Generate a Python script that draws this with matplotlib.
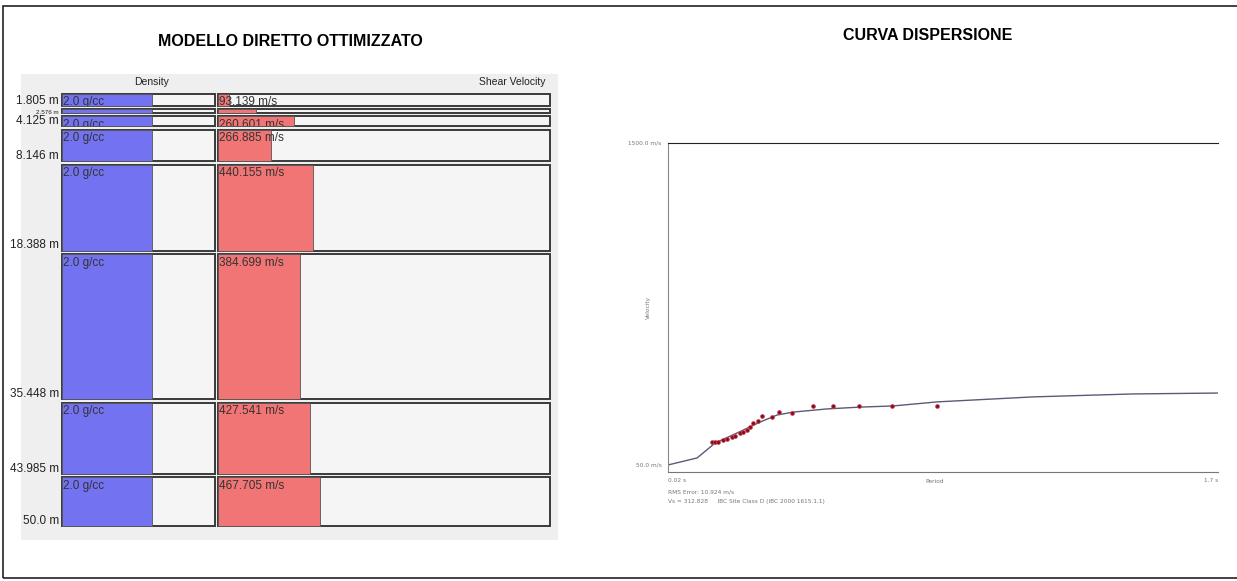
import numpy as np
import matplotlib.pyplot as plt
from matplotlib.patches import Rectangle
from matplotlib.transforms import Bbox

W, H = 1237, 581
NARROW = ['Liberation Sans Narrow', 'Liberation Sans', 'DejaVu Sans']

# layered model: bottom depth of each layer (m), density (g/cc), shear velocity (m/s)
depth_bottom = [1.805, 2.576, 4.125, 8.146, 18.388, 35.448, 43.985, 50.0]
density = [2.0, 2.0, 2.0, 2.0, 2.0, 2.0, 2.0, 2.0]
density_text = ['2.0 g/cc', '', '2.0 g/cc', '2.0 g/cc', '2.0 g/cc', '2.0 g/cc',
                '2.0 g/cc', '2.0 g/cc']
vs = [93.139, 205.0, 360.601, 266.885, 440.155, 384.699, 427.541, 467.705]
vs_text = ['93.139 m/s', '', '260.601 m/s', '266.885 m/s', '440.155 m/s',
           '384.699 m/s', '427.541 m/s', '467.705 m/s']
depth_text = ['1.805 m', '2.576 m', '4.125 m', '8.146 m', '18.388 m',
              '35.448 m', '43.985 m', '50.0 m']

# dispersion curve: period (s) / phase velocity (m/s)
curve_T = [0.02, 0.109, 0.164, 0.231, 0.301, 0.353, 0.402, 0.506, 0.606,
           0.707, 0.842, 1.135, 1.44, 1.70]
curve_v = [81, 112, 178, 222, 270, 301, 314, 328, 336, 341, 359, 381, 394, 398]
obs_T = [0.153, 0.164, 0.174, 0.189, 0.199, 0.215, 0.225, 0.240, 0.250, 0.260,
         0.271, 0.281, 0.294, 0.308, 0.339, 0.360, 0.400, 0.462, 0.523, 0.602,
         0.705, 0.841]
obs_v = [181, 181, 184, 191, 194, 203, 209, 220, 227, 235, 247, 264, 276, 298,
         293, 315, 312, 340, 340, 340, 340, 340]


def box(x0, y0, x1, y1):
    return [x0 / W, 1 - y1 / H, (x1 - x0) / W, (y1 - y0) / H]


fig = plt.figure(figsize=(W / 100, H / 100), dpi=100)

# page frame and panel background (kept behind the axes)
fig.patches.append(Rectangle((3 / W, 1 - 578 / H), 1.2, (578 - 6) / H, transform=fig.transFigure,
                             fill=False, ec='#222222', lw=1.2, zorder=-2))
fig.patches.append(Rectangle((21 / W, 1 - 540 / H), (558 - 21) / W, (540 - 74) / H,
                             transform=fig.transFigure, fc='#efefef', ec='none', zorder=-1))

fig.text(290 / W, 1 - 42 / H, 'MODELLO DIRETTO OTTIMIZZATO', ha='center', va='center',
         fontsize=11.5, fontweight='bold', family=['Liberation Sans', 'DejaVu Sans'])
fig.text(928 / W, 1 - 35 / H, 'CURVA DISPERSIONE', ha='center', va='center',
         fontsize=11.5, fontweight='bold', family=['Liberation Sans', 'DejaVu Sans'])
fig.text(152 / W, 1 - 82 / H, 'Density', ha='center', va='center', fontsize=7.5,
         family=NARROW, color='#222222')
fig.text(512 / W, 1 - 82 / H, 'Shear Velocity', ha='center', va='center', fontsize=7.5,
         family=NARROW, color='#222222')

tops = [0.0] + depth_bottom[:-1]
gap = 0.2


def layer_column(ax, values, labels, xmin, xmax, color):
    ax.set_xlim(xmin, xmax)
    ax.set_ylim(50.0, 0.0)
    ax.axis('off')
    for top, bot, val, lab in zip(tops, depth_bottom, values, labels):
        y0, y1 = top + gap, bot - gap
        ax.add_patch(Rectangle((xmin, y0), xmax - xmin, y1 - y0, fc='#f5f5f5', ec='#3a3a3a',
                               lw=1.4, clip_on=False))
        ax.add_patch(Rectangle((xmin, y0), val - xmin, y1 - y0, fc=color, ec='#555555', lw=0.6,
                               clip_on=False))
        if lab:
            t = ax.text(xmin + 0.004 * (xmax - xmin), y0 + 0.3, lab, ha='left', va='top',
                        fontsize=8.5, family=NARROW, color='#333333')
            # labels that do not fit a thin layer are cut at the layer's edge
            (px0, py0), (px1, py1) = ax.transData.transform([[xmin, y0], [xmax, y1]])
            t.set_clip_box(Bbox.from_extents(min(px0, px1), min(py0, py1),
                                             max(px0, px1), max(py0, py1)))
            t.set_clip_on(True)


ax_d = fig.add_axes(box(62, 92, 215, 528))
ax_v = fig.add_axes(box(218, 92, 550, 528))
layer_column(ax_d, density, density_text, 0.0, 3.4, '#7373f2')
layer_column(ax_v, vs, vs_text, 50.0, 1410.0, '#f27575')

for bot, lab in zip(depth_bottom, depth_text):
    small = lab == '2.576 m'
    ax_d.text(-0.02, bot + (0.1 if small else -0.1), lab, transform=ax_d.get_yaxis_transform(),
              ha='right', va='bottom', fontsize=4.5 if small else 8.5, family=NARROW,
              color='#222222', clip_on=False)

# dispersion curve panel
ax = fig.add_axes(box(668, 143, 1218, 472))
ax.set_xlim(0.02, 1.70)
ax.set_ylim(50.0, 1500.0)
ax.plot(curve_T, curve_v, color='#5a5a78', lw=1.0)
ax.plot(obs_T, obs_v, 'o', ms=2.8, mfc='#7a1020', mec='#e04050', mew=0.5)
ax.set_xticks([])
ax.set_yticks([])
ax.spines['right'].set_visible(False)
ax.spines['top'].set_color('#222222')
ax.spines['left'].set_color('#888888')
ax.spines['bottom'].set_color('#777777')

small_kw = dict(fontsize=4.2, color='#777777', family=['DejaVu Sans'])
ax.text(-0.012, 1.0, '1500.0 m/s', transform=ax.transAxes, ha='right', va='center', **small_kw)
ax.text(-0.012, 0.02, '50.0 m/s', transform=ax.transAxes, ha='right', va='center', **small_kw)
ax.text(-0.035, 0.5, 'Velocity', transform=ax.transAxes, ha='center', va='center',
        rotation=90, **small_kw)
ax.text(0.0, -0.025, '0.02 s', transform=ax.transAxes, ha='left', va='center', **small_kw)
ax.text(0.485, -0.03, 'Period', transform=ax.transAxes, ha='center', va='center', **small_kw)
ax.text(1.0, -0.025, '1.7 s', transform=ax.transAxes, ha='right', va='center', **small_kw)
ax.text(0.0, -0.06, 'RMS Error: 10.924 m/s', transform=ax.transAxes, ha='left', va='center',
        **small_kw)
ax.text(0.0, -0.09, 'Vs = 312.828     IBC Site Class D (IBC 2000 1615.1.1)',
        transform=ax.transAxes, ha='left', va='center', **small_kw)

fig.savefig('out.png', dpi=100)
